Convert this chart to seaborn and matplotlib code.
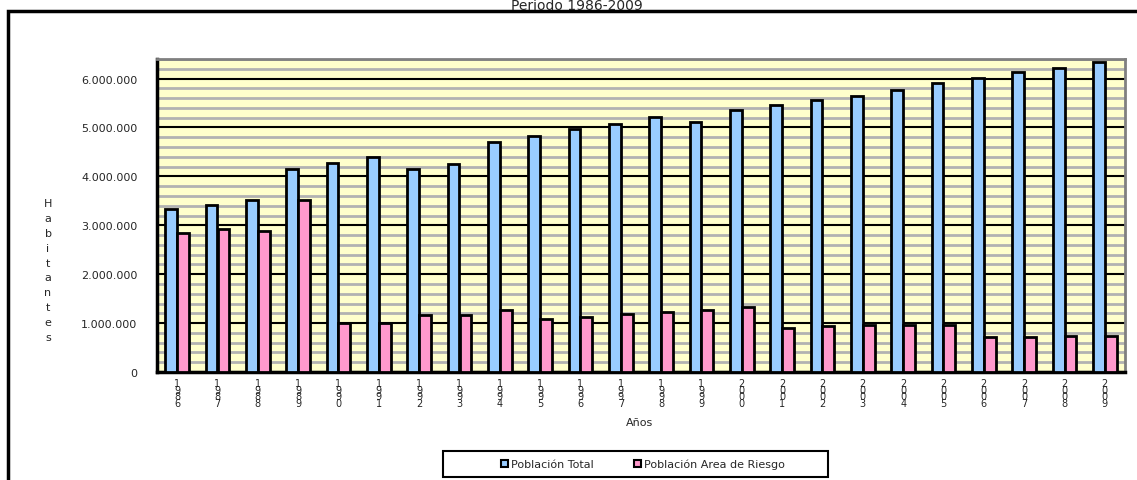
import matplotlib
matplotlib.use("Agg")
import matplotlib.pyplot as plt
import matplotlib.ticker as mticker
from matplotlib.patches import Rectangle, Patch
import seaborn as sns
import pandas as pd

years = [str(y) for y in range(1986, 2010)]
poblacion_total = [3340000, 3420000, 3520000, 4160000, 4270000, 4400000, 4160000, 4250000,
                   4700000, 4820000, 4960000, 5080000, 5220000, 5110000, 5360000, 5460000,
                   5560000, 5650000, 5770000, 5900000, 6010000, 6130000, 6220000, 6340000]
poblacion_riesgo = [2850000, 2920000, 2890000, 3520000, 1010000, 1010000, 1160000, 1160000,
                    1270000, 1090000, 1130000, 1180000, 1230000, 1270000, 1320000, 900000,
                    950000, 970000, 970000, 970000, 710000, 710000, 730000, 730000]
series_names = ["Población Total", "Población Area de Riesgo"]
colors = ["#99CCFF", "#FF99CC"]
ytick_values = [0, 1000000, 2000000, 3000000, 4000000, 5000000, 6000000]

df = pd.DataFrame({
    "Año": years * 2,
    "Valor": poblacion_total + poblacion_riesgo,
    "Serie": [series_names[0]] * len(years) + [series_names[1]] * len(years),
})

sns.set_theme(style="white")
plt.rcParams["font.family"] = ["DejaVu Sans"]

fig = plt.figure(figsize=(11.37, 4.81), dpi=100)
ax = fig.add_axes([157 / 1137, 1 - 373 / 481, (1125 - 157) / 1137, (373 - 60) / 481])
ax.set_facecolor("#FFFFCC")

sns.barplot(data=df, x="Año", y="Valor", hue="Serie", order=years,
            hue_order=series_names, palette=colors, saturation=1, width=0.58,
            edgecolor="black", linewidth=2, ax=ax, legend=False, zorder=3)

ax.set_xlim(-0.5, len(years) - 0.5)
ax.set_ylim(0, 6400000)
ax.set_yticks(ytick_values)
ax.yaxis.set_major_formatter(mticker.FuncFormatter(lambda v, p: f"{int(v):,}".replace(",", ".")))
ax.yaxis.set_minor_locator(mticker.MultipleLocator(200000))
ax.set_axisbelow(True)
ax.grid(which="minor", axis="y", color="#B2B2B2", linewidth=2, zorder=0)
ax.grid(which="major", axis="y", color="black", linewidth=1.5, zorder=1)
ax.grid(which="major", axis="x", visible=False)

ax.set_xticks(range(len(years)))
ax.set_xticklabels(["\n".join(y) for y in years], fontsize=7, linespacing=0.62, va="top")
ax.xaxis.set_minor_locator(mticker.FixedLocator([i - 0.5 for i in range(len(years) + 1)]))
ax.tick_params(axis="x", which="major", length=0, pad=4)
ax.tick_params(axis="x", which="minor", length=4, width=1.5, color="black", direction="out")
ax.tick_params(axis="y", which="major", length=4, width=1.5, color="black", direction="out",
               labelsize=8, pad=10)
ax.tick_params(axis="y", which="minor", length=0)

for side in ["left", "bottom"]:
    ax.spines[side].set_color("black")
    ax.spines[side].set_linewidth(2.5)
for side in ["top", "right"]:
    ax.spines[side].set_color("#808080")
    ax.spines[side].set_linewidth(2)

ax.set_xlabel("Años", fontsize=8)
ax.xaxis.set_label_coords((640 - 157) / 968, -0.145)
ax.xaxis.label.set_va("top")
ax.set_ylabel("\n".join("Habitantes"), fontsize=8, rotation=0, linespacing=1.62,
              ha="center", va="center")
ax.yaxis.set_label_coords((48 - 157) / 968, (373 - 271) / 313)

# outer chart frame (cropped on right and bottom)
fig.patches.append(Rectangle((8 / 1137, -0.1), 1.2, 1 - 12 / 481 + 0.1,
                             transform=fig.transFigure, fill=False,
                             edgecolor="black", linewidth=2.5))

# title (at the very top, as in the reference)
fig.text(577 / 1137, 1 - 10 / 481, "Período 1986-2009", ha="center", va="baseline",
         fontsize=10)

# legend box
fig.patches.append(Rectangle((443 / 1137, 1 - 478 / 481), (828 - 443) / 1137,
                             (478 - 452) / 481, transform=fig.transFigure, fill=True,
                             facecolor="white", edgecolor="black", linewidth=1.5))
handles = [Patch(facecolor=c, edgecolor="black", linewidth=1.5) for c in colors]
fig.legend(handles, series_names, loc="center", bbox_to_anchor=(643 / 1137, 1 - 465 / 481),
           ncol=2, frameon=False, fontsize=8, handlelength=0.6, handleheight=0.6,
           handletextpad=0.3, columnspacing=3.6)

fig.savefig("out.png", dpi=100)
